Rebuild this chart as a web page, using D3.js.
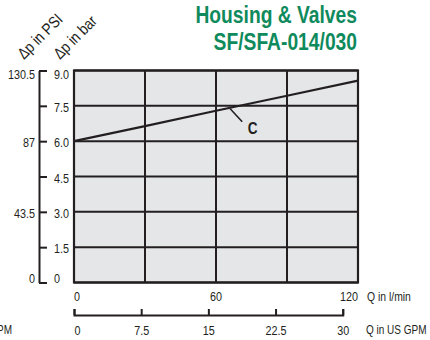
<!DOCTYPE html>
<html>
<head>
<meta charset="utf-8">
<script src="https://cdn.jsdelivr.net/npm/d3@7"></script>
<style>
  html, body { margin: 0; padding: 0; background: #ffffff; }
  svg { display: block; }
  text { font-family: "Liberation Sans", Arial, Helvetica, sans-serif; fill: #231f20; }
</style>
</head>
<body>
<svg id="chart" width="430" height="340"></svg>
<script>
// ---- data ----
const titleLines = ["Housing & Valves", "SF/SFA-014/030"];
const flowLpm = [0, 30, 60, 90, 120];          // Q in l/min
const dpBarC = [6.0, 6.64, 7.29, 7.93, 8.57];  // Δp in bar, curve C
const seriesName = "C";
const barTicks = [0, 1.5, 3.0, 4.5, 6.0, 7.5, 9.0];
const barTickLabels = ["0", "1.5", "3.0", "4.5", "6.0", "7.5", "9.0"];
const psiTicks = [0, 43.5, 87, 130.5];
const psiTickLabels = ["0", "43.5", "87", "130.5"];
const lpmGrid = [30, 60, 90];
const lpmTicks = [0, 60, 120];
const lpmTickLabels = ["0", "60", "120"];
const gpmTicks = [0, 7.5, 15, 22.5, 30];
const gpmTickLabels = ["0", "7.5", "15", "22.5", "30"];
const axisTitles = { psi: "Δp in PSI", bar: "Δp in bar", lpm: "Q in l/min", gpm: "Q in US GPM" };
const LPM_PER_GPM = 3.785;
const PSI_PER_BAR = 14.5;

// ---- layout ----
const svg = d3.select("#chart");
const ink = "#231f20";
const green = "#0f8a5c";
const plot = { left: 74, right: 358, top: 70.5, bottom: 282.5 };

// condense text horizontally about its anchor x (narrow face look), keeping real text
function condense(sel, f) {
  sel.each(function () {
    const el = d3.select(this);
    const x0 = +(el.attr("x") || 0);
    el.attr("transform", `matrix(${f},0,0,1,${(x0 * (1 - f)).toFixed(3)},0)`);
  });
}

const x = d3.scaleLinear().domain([0, 120]).range([plot.left, plot.right]);
const yBar = d3.scaleLinear().domain([0, 9]).range([plot.bottom, plot.top]);
const yPsi = d3.scaleLinear().domain([0, 9 * PSI_PER_BAR]).range([plot.bottom, plot.top]);
const xGpm = d3.scaleLinear().domain([0, 30]).range([x(0), x(30 * LPM_PER_GPM)]);

// title
svg.append("g").selectAll("text").data(titleLines).join("text")
  .attr("x", 357).attr("y", (d, i) => 23.5 + i * 26.5)
  .attr("text-anchor", "end")
  .style("font-size", "23.5px").style("font-weight", "bold")
  .style("fill", green)
  .text(d => d)
  .call(condense, 0.82);

// plot background
svg.append("rect")
  .attr("x", plot.left).attr("y", plot.top)
  .attr("width", plot.right - plot.left).attr("height", plot.bottom - plot.top)
  .attr("fill", "#e5e6e8");

// grid
const grid = svg.append("g").attr("stroke", ink).attr("stroke-width", 2);
grid.selectAll("line.h").data(barTicks).join("line").attr("class", "h")
  .attr("x1", plot.left).attr("x2", plot.right)
  .attr("y1", d => yBar(d)).attr("y2", d => yBar(d));
grid.selectAll("line.v").data(lpmGrid).join("line").attr("class", "v")
  .attr("x1", d => x(d)).attr("x2", d => x(d))
  .attr("y1", plot.top).attr("y2", plot.bottom);
svg.append("rect")
  .attr("x", plot.left).attr("y", plot.top)
  .attr("width", plot.right - plot.left).attr("height", plot.bottom - plot.top)
  .attr("fill", "none").attr("stroke", ink).attr("stroke-width", 2.2);

// curve C
const pts = flowLpm.map((q, i) => [q, dpBarC[i]]);
svg.append("path").datum(pts)
  .attr("fill", "none").attr("stroke", ink).attr("stroke-width", 2.2)
  .attr("d", d3.line().x(d => x(d[0])).y(d => yBar(d[1])));

// label C with leader
const qLab = 66;
const dpLab = d3.scaleLinear().domain(flowLpm).range(dpBarC)(qLab);
const ax = x(qLab), ay = yBar(dpLab);
svg.append("line").attr("x1", ax).attr("y1", ay + 1).attr("x2", ax + 12).attr("y2", ay + 14)
  .attr("stroke", ink).attr("stroke-width", 1.6);
svg.append("text").attr("x", ax + 22.5).attr("y", ay + 26)
  .attr("text-anchor", "middle")
  .style("font-size", "16.5px").style("font-weight", "bold")
  .text(seriesName)
  .call(condense, 0.82);

// left bar axis (ticks to the right, labels right)
const axisX = 39;
const barAxis = svg.append("g").attr("transform", `translate(${axisX},0)`)
  .call(d3.axisRight(yBar).tickValues(barTicks).tickSize(8).tickSizeOuter(0).tickPadding(7)
    .tickFormat((d, i) => barTickLabels[i]));
barAxis.selectAll("path.domain").attr("stroke", ink).attr("stroke-width", 2);
barAxis.selectAll(".tick line").attr("stroke", ink).attr("stroke-width", 2);
barAxis.attr("font-family", null);
barAxis.selectAll("text").style("font-size", "13.5px").attr("fill", ink);

// psi labels (left of axis line)
const psiAxis = svg.append("g").attr("transform", `translate(${axisX},0)`)
  .call(d3.axisLeft(yPsi).tickValues(psiTicks).tickSize(0).tickPadding(4)
    .tickFormat((d, i) => psiTickLabels[i]));
psiAxis.select("path.domain").remove();
psiAxis.attr("font-family", null);
psiAxis.selectAll("text").style("font-size", "13.5px").attr("fill", ink);

// nudge end labels like the reference
[barAxis, psiAxis].forEach(g => {
  g.selectAll(".tick text")
    .attr("dy", d => d === 0 ? "0em" : (d === 9 || d === 130.5 ? "0.6em" : "0.42em"))
    .call(condense, 0.8);
});

// axis titles (rotated)
svg.append("text").attr("transform", "translate(24,60) rotate(-45) scale(0.84,1)")
  .style("font-size", "16px").text(axisTitles.psi);
svg.append("text").attr("transform", "translate(60,60) rotate(-45) scale(0.84,1)")
  .style("font-size", "16px").text(axisTitles.bar);

// l/min labels
svg.append("g").selectAll("text").data(lpmTicks).join("text")
  .attr("x", d => x(d)).attr("y", 301.5)
  .attr("text-anchor", (d, i) => i === 0 ? "start" : (i === lpmTicks.length - 1 ? "end" : "middle"))
  .style("font-size", "13.5px")
  .text((d, i) => lpmTickLabels[i])
  .call(condense, 0.8);
svg.append("text").attr("x", 367).attr("y", 301.5).style("font-size", "13px")
  .text(axisTitles.lpm).call(condense, 0.8);

// GPM axis
const gpmAxis = svg.append("g").attr("transform", "translate(0,315)")
  .call(d3.axisBottom(xGpm).tickValues(gpmTicks).tickSize(-6).tickSizeOuter(-6).tickPadding(10)
    .tickFormat((d, i) => gpmTickLabels[i]));
gpmAxis.attr("font-family", null);
gpmAxis.selectAll("path.domain").attr("stroke", ink).attr("stroke-width", 2);
gpmAxis.selectAll(".tick line").attr("stroke", ink).attr("stroke-width", 2);
gpmAxis.selectAll("text").style("font-size", "13.5px").attr("fill", ink)
  .attr("text-anchor", (d, i) => i === 0 ? "start" : "middle")
  .call(condense, 0.8);
svg.append("text").attr("x", 366).attr("y", 334).style("font-size", "12.5px")
  .text(axisTitles.gpm).call(condense, 0.8);
// clipped copy at the left edge, as in the reference
svg.append("text").attr("x", 12).attr("y", 334).attr("text-anchor", "end")
  .style("font-size", "12.5px").text(axisTitles.gpm).call(condense, 0.8);
</script>
</body>
</html>
